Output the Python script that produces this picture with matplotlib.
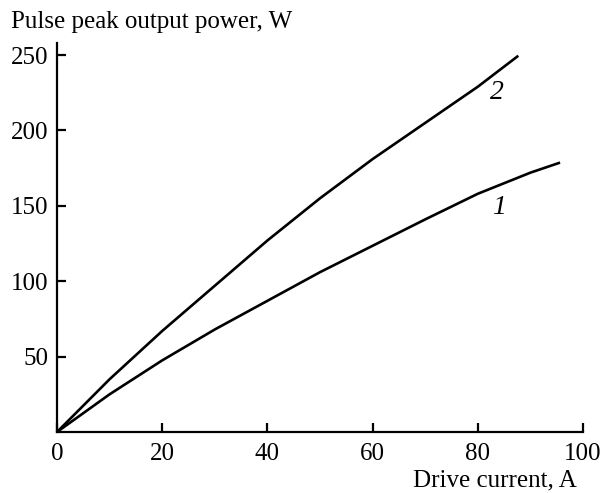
import numpy as np
import matplotlib
matplotlib.use('Agg')
import matplotlib.pyplot as plt

plt.rcParams['font.family'] = ['Liberation Serif', 'DejaVu Serif']
plt.rcParams['font.size'] = 18

# curve 1
current_1 = [0, 10, 20, 30, 40, 50, 60, 70, 80, 90, 95.4]
power_1 = [0, 25, 47.5, 68, 87, 106, 123.5, 141, 158, 172, 178.4]
# curve 2
current_2 = [0, 10, 20, 30, 40, 50, 60, 70, 80, 87.5]
power_2 = [0, 35, 67, 97, 127, 155, 181, 205, 229, 249]

x_ticks = [0, 20, 40, 60, 80, 100]
y_ticks = [50, 100, 150, 200, 250]

fig = plt.figure(figsize=(6.04, 4.93), dpi=100)
ax = fig.add_axes([57 / 604, 61 / 493, 526 / 604, 389 / 493])

ax.plot(current_1, power_1, color='black', lw=1.9, solid_joinstyle='round')
ax.plot(current_2, power_2, color='black', lw=1.9, solid_joinstyle='round')

ax.text(84, 149, '1', style='italic', fontsize=20, ha='center', va='center')
ax.text(83.7, 225, '2', style='italic', fontsize=20, ha='center', va='center')

ax.set_xlim(0, 100)
ax.set_ylim(0, 258)
ax.set_xticks(x_ticks)
ax.set_yticks(y_ticks)
ax.spines['top'].set_visible(False)
ax.spines['right'].set_visible(False)
for s in ['left', 'bottom']:
    ax.spines[s].set_linewidth(1.6)
ax.tick_params(direction='in', length=6.5, width=1.6, labelsize=18)
ax.tick_params(axis='x', pad=8)
ax.tick_params(axis='y', pad=6)

fig.text(11 / 604, 1 - 28 / 493, 'Pulse peak output power, W', fontsize=18,
         ha='left', va='baseline')
fig.text(577 / 604, 1 - 486 / 493, 'Drive current, A', fontsize=18,
         ha='right', va='baseline')

fig.savefig('out.png', dpi=100)
